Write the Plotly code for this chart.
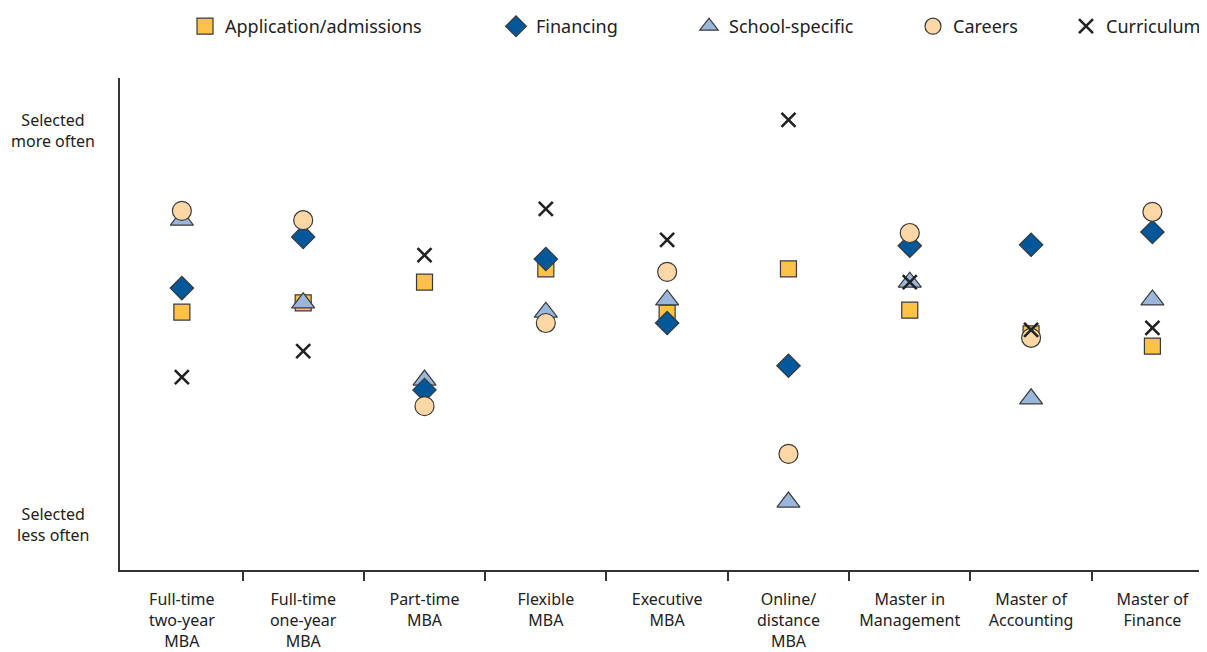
import plotly.graph_objects as go

categories = [
    "Full-time<br>two-year<br>MBA",
    "Full-time<br>one-year<br>MBA",
    "Part-time<br>MBA",
    "Flexible<br>MBA",
    "Executive<br>MBA",
    "Online/<br>distance<br>MBA",
    "Master in<br>Management",
    "Master of<br>Accounting",
    "Master of<br>Finance",
]

# Relative selection score (0 = bottom of axis, 100 = top)
application = [52.4, 54.3, 58.5, 61.2, 52.2, 61.2, 52.8, 48.0, 45.5]
financing   = [57.3, 67.7, 36.6, 63.2, 50.2, 41.5, 65.9, 66.1, 68.7]
school      = [71.1, 54.3, 38.6, 52.4, 54.9, 13.8, 58.5, 34.8, 54.9]
careers     = [73.0, 71.1, 33.3, 50.2, 60.6, 23.6, 68.5, 47.2, 72.8]
curriculum  = [39.2, 44.5, 64.0, 73.4, 67.1, 91.5, 58.5, 48.8, 49.2]

axis_labels = ["Selected<br>more often", "Selected<br>less often"]
axis_label_vals = [89.4, 9.3]

x = list(range(len(categories)))
boundaries = [i + 0.5 for i in x[:-1]]
FONT = "Noto Sans"
OUT = "#3a3a3a"

series = [
    ("Application/admissions", application, dict(symbol="square", size=16, color="#FDC247", line=dict(color=OUT, width=1.2))),
    ("School-specific", school, dict(symbol="triangle-up", size=20, color="#9AB6DA", line=dict(color=OUT, width=1.2))),
    ("Financing", financing, dict(symbol="diamond", size=18, color="#00589B", line=dict(color=OUT, width=1.2))),
    ("Careers", careers, dict(symbol="circle", size=19, color="#FDD8A6", line=dict(color=OUT, width=1.2))),
    ("Curriculum", curriculum, dict(symbol="x-thin", size=14, color="#222222", line=dict(color="#222222", width=2.6))),
]

# page offset (browser body margin)
OFF = 8
W, H = 1207 - OFF, 652 - OFF

# legend symbol centers (px) in the reference page
legend_pos = {"Application/admissions": 205, "Financing": 516, "School-specific": 709,
              "Careers": 933, "Curriculum": 1086}
legend_names = ["legend", "legend2", "legend3", "legend4", "legend5"]
legend_order = ["Application/admissions", "Financing", "School-specific", "Careers", "Curriculum"]

fig = go.Figure()
for name, vals, mk in series:
    lg = legend_names[legend_order.index(name)]
    fig.add_trace(go.Scatter(x=x, y=vals, mode="markers", name=name, marker=mk,
                             legend=lg, hoverinfo="name+y"))

layout_legends = {}
for i, name in enumerate(legend_order):
    layout_legends[legend_names[i]] = dict(
        x=(legend_pos[name] - OFF - 20) / W, xref="container", xanchor="left",
        y=1 + 7 / H, yref="container", yanchor="top",
        font=dict(family=FONT, size=18, color="#222"),
        bgcolor="rgba(0,0,0,0)", borderwidth=0,
    )

L, T, B = 120 - OFF, 78 - OFF, 652 - 570
XR = [-0.51, 8.45]

fig.update_layout(
    width=W, height=H,
    margin=dict(l=L, r=0, t=T, b=B, autoexpand=False),
    plot_bgcolor="white", paper_bgcolor="white",
    showlegend=True,
    **layout_legends,
    xaxis=dict(
        range=XR, tickmode="array", tickvals=x, ticktext=categories,
        ticks="", showgrid=False, zeroline=False, showline=True,
        linecolor="#333", linewidth=1.5, automargin=False, ticklabelstandoff=14,
        tickfont=dict(family=FONT, size=16, color="#222"),
        minor=dict(tickmode="array", tickvals=boundaries, ticks="outside",
                   ticklen=9, tickcolor="#333", tickwidth=1.5, showgrid=False),
    ),
    xaxis2=dict(
        range=XR, overlaying="x", anchor="y", side="bottom", tickmode="array",
        tickvals=boundaries, ticks="inside", ticklen=9, tickcolor="#333", tickwidth=1.5,
        showticklabels=False, showgrid=False, zeroline=False, showline=False,
    ),
    yaxis=dict(
        range=[0, 100], showticklabels=False, ticks="", showgrid=False, zeroline=False,
        showline=True, linecolor="#333", linewidth=1.5, automargin=False,
    ),
)

for txt, v in zip(axis_labels, axis_label_vals):
    fig.add_annotation(text=txt, x=(53 - 120) / (W - L), xref="paper", xanchor="center",
                       y=v, yref="y", yanchor="middle", showarrow=False, align="center",
                       font=dict(family=FONT, size=16, color="#222"))

fig.write_html("out.html")
